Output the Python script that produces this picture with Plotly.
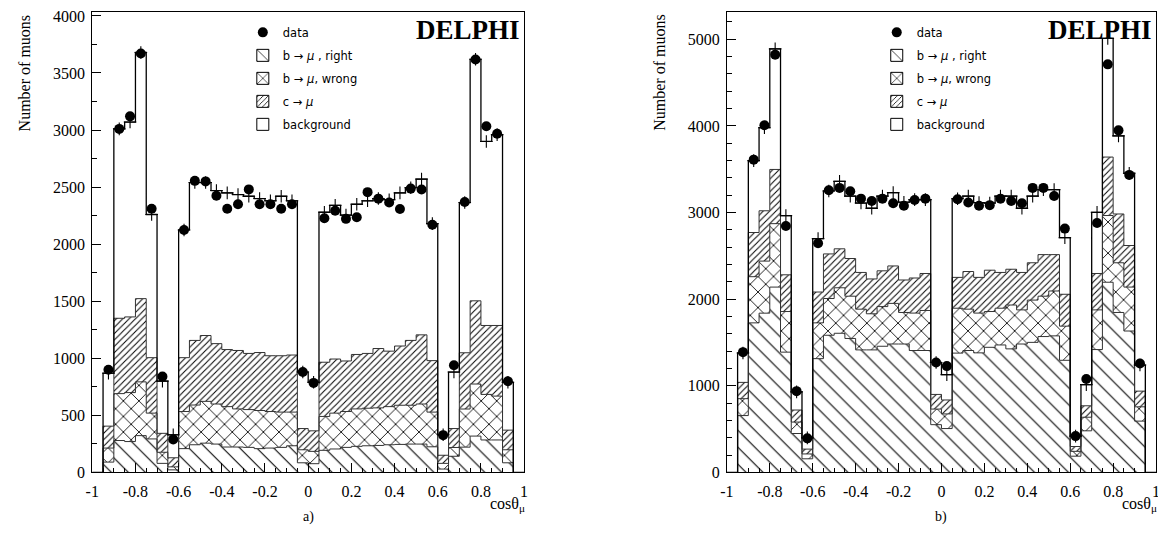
import plotly.graph_objects as go

# ---------------- data ----------------
COS_BINS = [-0.925, -0.875, -0.825, -0.775, -0.725, -0.675, -0.625, -0.575, -0.525, -0.475,
            -0.425, -0.375, -0.325, -0.275, -0.225, -0.175, -0.125, -0.075, -0.025, 0.025,
            0.075, 0.125, 0.175, 0.225, 0.275, 0.325, 0.375, 0.425, 0.475, 0.525,
            0.575, 0.625, 0.675, 0.725, 0.775, 0.825, 0.875, 0.925]
BIN_WIDTH = 0.05

X_TICKS = [-1, -0.8, -0.6, -0.4, -0.2, 0, 0.2, 0.4, 0.6, 0.8, 1]
X_TICK_TEXT = ["-1", "-0.8", "-0.6", "-0.4", "-0.2", "0", "0.2", "0.4", "0.6", "0.8", "1"]

# panel a)
A_DATA = [900, 3010, 3120, 3670, 2310, 840, 290, 2125, 2555, 2550,
          2425, 2310, 2350, 2480, 2350, 2350, 2310, 2350, 880, 785,
          2228, 2293, 2222, 2236, 2456, 2399, 2365, 2308, 2487, 2479,
          2171, 327, 940, 2370, 3618, 3034, 2968, 800]
A_B_RIGHT = [91, 280, 271, 323, 294, 80, 23, 209, 243, 257,
             249, 223, 223, 220, 209, 214, 220, 234, 85, 77,
             194, 206, 220, 229, 234, 237, 243, 246, 249, 249,
             225, 30, 142, 222, 319, 285, 285, 85]
A_B_WRONG = [123, 411, 429, 471, 226, 97, 26, 325, 348, 366,
             351, 354, 334, 331, 334, 320, 309, 295, 114, 108,
             297, 314, 314, 328, 329, 329, 334, 343, 340, 351,
             304, 50, 77, 334, 456, 399, 384, 114]
A_C = [192, 660, 663, 729, 486, 166, 80, 472, 566, 577,
       529, 500, 512, 492, 508, 489, 494, 500, 186, 180,
       475, 474, 443, 477, 480, 520, 486, 519, 568, 606,
       451, 71, 166, 493, 729, 604, 619, 172]
A_BKG = [464, 1659, 1707, 2157, 1254, 457, 201, 1119, 1383, 1340,
         1341, 1373, 1366, 1377, 1349, 1357, 1397, 1351, 495, 425,
         1314, 1346, 1278, 1316, 1337, 1314, 1327, 1342, 1338, 1364,
         1200, 179, 495, 1316, 2116, 1612, 1672, 419]

# panel b)
B_DATA = [1389, 3611, 4009, 4823, 2845, 939, 394, 2646, 3258, 3285,
          3247, 3161, 3134, 3161, 3108, 3078, 3145, 3161, 1269, 1228,
          3153, 3116, 3078, 3086, 3161, 3134, 3108, 3285, 3285, 3191,
          2815, 420, 1080, 2880, 4711, 3949, 3435, 1258]
B_B_RIGHT = [657, 1727, 1839, 2140, 1389, 450, 158, 1314, 1584, 1607,
             1547, 1415, 1415, 1457, 1483, 1483, 1408, 1408, 552, 507,
             1378, 1408, 1381, 1445, 1472, 1427, 1483, 1502, 1569, 1577,
             1295, 188, 481, 1419, 2196, 1847, 1633, 593]
B_B_WRONG = [195, 533, 601, 732, 469, 132, 56, 413, 424, 525,
             488, 470, 417, 458, 469, 364, 432, 462, 180, 169,
             518, 477, 459, 413, 424, 506, 394, 488, 466, 518,
             394, 56, 157, 458, 770, 574, 507, 165]
B_C = [188, 510, 581, 626, 424, 139, 56, 356, 515, 450,
       435, 424, 402, 413, 432, 375, 405, 427, 169, 161,
       356, 435, 412, 477, 413, 413, 432, 431, 480, 420,
       368, 56, 132, 420, 675, 563, 480, 181]
B_BKG = [340, 830, 959, 1392, 683, 209, 130, 617, 727, 778,
         720, 801, 816, 862, 846, 898, 905, 853, 369, 293,
         908, 870, 863, 775, 881, 844, 741, 769, 750, 750,
         653, 120, 244, 706, 1370, 901, 834, 301]

LEGEND_LABELS = ["data", "b → <i>μ</i> , right", "b → <i>μ</i>, wrong", "c → <i>μ</i>", "background"]

# ---------------- styles ----------------
SERIF = "Liberation Serif, Times New Roman, serif"
SANS = "DejaVu Sans, sans-serif"
OFF = 8                 # page body margin of the html page
W, H = 1158, 533        # figure size: its right/bottom edge meets the window edge


def px(x):
    return (x - OFF) / W


def py(y):
    return min(1.0, (H - (y - OFF)) / H)


PATTERNS = [
    dict(shape="\\", size=12, solidity=0.09, fgcolor="black", fgopacity=1, bgcolor="white", fillmode="overlay"),
    dict(shape="x", size=11, solidity=0.15, fgcolor="black", fgopacity=1, bgcolor="white", fillmode="overlay"),
    dict(shape="/", size=4.5, solidity=0.22, fgcolor="black", fgopacity=1, bgcolor="white", fillmode="overlay"),
    None,
]


def cumulative(*series):
    out = []
    run = [0] * len(series[0])
    for s in series:
        run = [a + b for a, b in zip(run, s)]
        out.append(run)
    return out


def step_xy(centers, heights, full=False):
    left = [c - BIN_WIDTH / 2 for c in centers]
    right_end = centers[-1] + BIN_WIDTH / 2
    xs = [left[0]] + left + [right_end, right_end]
    ys = [0] + list(heights) + [heights[-1], 0]
    if full:
        xs = [-1] + xs + [1]
        ys = [0] + ys + [0]
    return xs, ys


fig = go.Figure()

panels = [
    ("x", "y", "legend", "a", A_DATA, [A_B_RIGHT, A_B_WRONG, A_C, A_BKG]),
    ("x2", "y2", "legend2", "b", B_DATA, [B_B_RIGHT, B_B_WRONG, B_C, B_BKG]),
]

for xa, ya, leg, tag, data, comps in panels:
    # stacked filled components
    for comp, pat in zip(comps, PATTERNS):
        marker = dict(color="white", line=dict(width=0))
        if pat is not None:
            marker["pattern"] = pat
        fig.add_trace(go.Bar(x=COS_BINS, y=comp, width=BIN_WIDTH, marker=marker,
                             xaxis=xa, yaxis=ya, showlegend=False, hoverinfo="skip"))
    # outlines of each cumulative level
    cums = cumulative(*comps)
    for i, level in enumerate(cums):
        xs, ys = step_xy(COS_BINS, level, full=(i == 3))
        fig.add_trace(go.Scatter(x=xs, y=ys, mode="lines", line_shape="hv",
                                 line=dict(color="black" if i == 3 else "#333333",
                                           width=1.3 if i == 3 else 1.0),
                                 xaxis=xa, yaxis=ya, showlegend=False, hoverinfo="skip"))
    # total MC markers (+)
    fig.add_trace(go.Scatter(x=COS_BINS, y=cums[3], mode="markers",
                             marker=dict(symbol="cross-thin", size=9, line=dict(color="black", width=1.1)),
                             xaxis=xa, yaxis=ya, showlegend=False, hoverinfo="skip"))
    # data
    fig.add_trace(go.Scatter(x=COS_BINS, y=data, mode="markers", name=LEGEND_LABELS[0],
                             marker=dict(symbol="circle", size=10, color="black"),
                             xaxis=xa, yaxis=ya, showlegend=True, legend=leg,
                             legendgroup=tag + "0"))
    # legend keys
    for k, (lab, pat) in enumerate(zip(LEGEND_LABELS[1:], PATTERNS)):
        marker = dict(color="white", line=dict(color="black", width=1))
        if pat is not None:
            marker["pattern"] = pat
        fig.add_trace(go.Bar(x=[None], y=[None], name=lab, marker=marker,
                             xaxis=xa, yaxis=ya, showlegend=True, legend=leg,
                             legendgroup=tag + str(k + 1)))

axis_common = dict(showline=True, linecolor="black", linewidth=1, mirror=True,
                   showgrid=False, zeroline=False, ticks="inside", tickcolor="black",
                   tickfont=dict(family=SERIF, size=16, color="black"))

TOP = 8   # plot-area top in window pixels (cannot go higher than the page margin)
XA = [px(86), px(522)]
XB = [px(726.7), px(1160)]
YD = [py(480), py(TOP)]
A_YMAX = (480 - TOP) / (468 / 4000)
B_YMAX = (480 - TOP) / (444 / 5000)

legend_style = dict(yanchor="top", xanchor="left", bgcolor="rgba(0,0,0,0)",
                    font=dict(family=SANS, size=11.5, color="black"),
                    traceorder="grouped", tracegroupgap=4)

fig.update_layout(
    width=W, height=H,
    margin=dict(l=0, r=0, t=0, b=0),
    paper_bgcolor="white", plot_bgcolor="white",
    barmode="stack", bargap=0,
    xaxis=dict(domain=XA, range=[-1, 1], anchor="y", tickvals=X_TICKS, ticktext=X_TICK_TEXT,
               ticklen=9, minor=dict(dtick=0.05, ticklen=4, ticks="inside", tickcolor="black"),
               ticklabelstandoff=4, **axis_common),
    yaxis=dict(domain=YD, range=[0, A_YMAX], anchor="x", dtick=500, ticklen=9,
               minor=dict(dtick=250, ticklen=5, ticks="inside", tickcolor="black"),
               ticklabelstandoff=3, ticklabeloverflow="allow", **axis_common),
    xaxis2=dict(domain=XB, range=[-1, 1], anchor="y2", tickvals=X_TICKS, ticktext=X_TICK_TEXT,
                ticklen=9, minor=dict(dtick=0.05, ticklen=4, ticks="inside", tickcolor="black"),
                ticklabelstandoff=4, **axis_common),
    yaxis2=dict(domain=YD, range=[0, B_YMAX], anchor="x2", dtick=1000, ticklen=9,
                minor=dict(dtick=200, ticklen=5, ticks="inside", tickcolor="black"),
                ticklabelstandoff=3, ticklabeloverflow="allow", **axis_common),
    legend=dict(x=px(238), y=py(14), **legend_style),
    legend2=dict(x=px(878), y=py(14), **legend_style),
    showlegend=True,
)

annots = []
for xr, xt, xl, lab in [(522, 18.5, 304, "a)"), (1160, 659, 943, "b)")]:
    annots.append(dict(text="<b>DELPHI</b>", x=px(xr - 2), y=py(9), xref="paper", yref="paper",
                       xanchor="right", yanchor="top", showarrow=False,
                       font=dict(family=SERIF, size=27, color="black")))
    annots.append(dict(text="Number of muons", x=px(xt), y=py(9), xref="paper", yref="paper",
                       xanchor="center", yanchor="top", textangle=-90, showarrow=False,
                       font=dict(family=SERIF, size=16, color="black")))
    annots.append(dict(text="cosθ<sub>μ</sub>", x=px(xr + 3), y=py(513), xref="paper", yref="paper",
                       xanchor="right", yanchor="middle", showarrow=False,
                       font=dict(family=SERIF, size=16, color="black")))
    annots.append(dict(text=lab, x=px(xl), y=py(526), xref="paper", yref="paper",
                       xanchor="center", yanchor="middle", showarrow=False,
                       font=dict(family=SERIF, size=14, color="black")))
fig.update_layout(annotations=annots)

fig.write_html("out.html")
